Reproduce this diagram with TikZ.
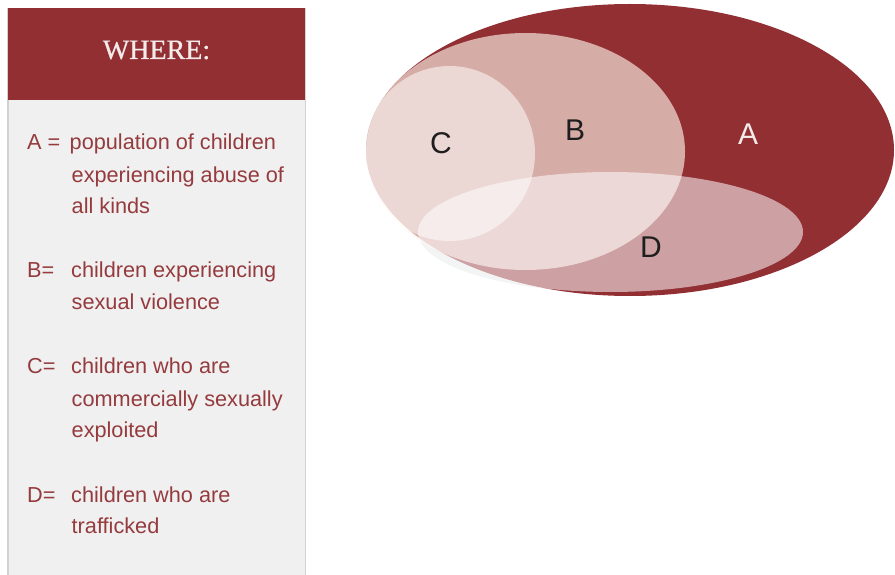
\documentclass[tikz,border=0pt]{standalone}
\usepackage{fontspec}
\setmainfont{Liberation Serif}
\setsansfont{Liberation Sans}
\newfontfamily\headfont[FakeBold=0.8]{Liberation Serif}
\definecolor{brick}{HTML}{922F33}
\definecolor{legtext}{HTML}{953B3E}
\definecolor{panel}{HTML}{F0F0F0}
\definecolor{panelrule}{HTML}{D2D2D2}
\definecolor{whiteish}{HTML}{F3EAEA}
\definecolor{ink}{HTML}{1E1E1E}
\definecolor{btint}{RGB}{255,245,235}
\definecolor{ghost}{HTML}{E6E9E7}
\begin{document}
\begin{tikzpicture}[x=1pt,y=-1pt,
  legend/.style={anchor=base west, inner sep=0pt, text=legtext,
    font=\sffamily\fontsize{21.7}{26}\selectfont},
  vlabel/.style={inner sep=0pt, text=ink,
    font=\sffamily\fontsize{30}{36}\selectfont}]
\useasboundingbox (0,0) rectangle (895,575);
\fill[white] (0,0) rectangle (895,575);
% legend panel
\fill[panel] (7,8) rectangle (306,575);
\draw[panelrule, line width=1.5pt] (7.75,8) -- (7.75,575);
\draw[panelrule, line width=1.5pt] (305.25,8) -- (305.25,575);
\fill[brick] (8,8) rectangle (305,100);
\node[inner sep=0pt, text=whiteish, font=\headfont\fontsize{28}{32}\selectfont] (where) at (156.5,50) {WHERE:};
% legend entries
\node[legend] (kA) at (27,150) {A =};
\node[legend] (tA1) at (69.5,150) {population of children};
\node[legend] (tA2) at (71.5,182.5) {experiencing abuse of};
\node[legend] (tA3) at (71.5,213.5) {all kinds};
\node[legend] (kB) at (27,277.5) {B=};
\node[legend] (tB1) at (71,277.5) {children experiencing};
\node[legend] (tB2) at (71.5,309.5) {sexual violence};
\node[legend] (kC) at (27,373.5) {C=};
\node[legend] (tC1) at (71,373.5) {children who are};
\node[legend] (tC2) at (71.5,406) {commercially sexually};
\node[legend] (tC3) at (71.5,437.5) {exploited};
\node[legend] (kD) at (27,502) {D=};
\node[legend] (tD1) at (71,502) {children who are};
\node[legend] (tD2) at (71.5,533) {trafficked};
% Venn diagram
\begin{scope}
  \clip (610.5,232) ellipse [x radius=192.5pt, y radius=60pt];
  \fill[ghost] (400,150) rectangle (820,300);
\end{scope}
\fill[brick] (630,150) ellipse [x radius=264pt, y radius=146pt];
\fill[btint, fill opacity=.63] (525.5,151.5) ellipse [x radius=159.5pt, y radius=118.5pt];
\fill[white, fill opacity=.52] (449.5,153.5) ellipse [x radius=85.5pt, y radius=87.5pt];
\fill[white, fill opacity=.55] (610.5,232) ellipse [x radius=192.5pt, y radius=60pt];
\node[vlabel] (lC) at (441,143) {C};
\node[vlabel] (lB) at (575,130) {B};
\node[vlabel, text=whiteish] (lA) at (748,134) {A};
\node[vlabel] (lD) at (651,247) {D};
\end{tikzpicture}
\end{document}
